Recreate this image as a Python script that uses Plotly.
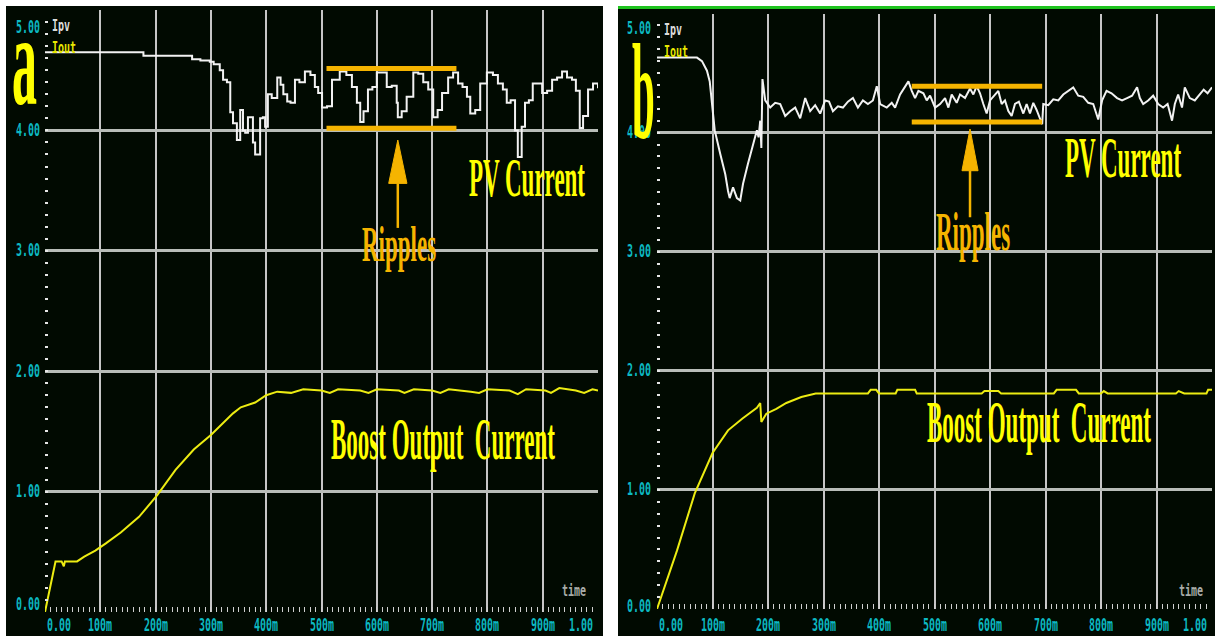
import json
import plotly.graph_objects as go

# ---------------------------------------------------------------- data
time_ticks = [0.0, 0.1, 0.2, 0.3, 0.4, 0.5, 0.6, 0.7, 0.8, 0.9, 1.0]
time_labels = ["0.00", "100m", "200m", "300m", "400m", "500m",
               "600m", "700m", "800m", "900m", "1.00"]
amp_ticks = [0, 1, 2, 3, 4, 5]
amp_labels = ["0.00", "1.00", "2.00", "3.00", "4.00", "5.00"]

# (a) PV current
pv_a_t = [0.000, 0.177, 0.178, 0.265, 0.266, 0.280, 0.281, 0.298, 0.305, 0.316,
          0.322, 0.329, 0.335, 0.340, 0.347, 0.353, 0.358, 0.362, 0.367, 0.376,
          0.380, 0.389, 0.394, 0.398, 0.403, 0.410, 0.420, 0.426, 0.431, 0.438,
          0.444, 0.452, 0.460, 0.470, 0.480, 0.488, 0.494, 0.501, 0.510, 0.519,
          0.533, 0.545, 0.555, 0.564, 0.570, 0.576, 0.584, 0.592, 0.600, 0.609,
          0.618, 0.627, 0.636, 0.638, 0.645, 0.654, 0.666, 0.675, 0.684, 0.693,
          0.702, 0.710, 0.718, 0.729, 0.738, 0.747, 0.755, 0.763, 0.769, 0.778,
          0.787, 0.799, 0.810, 0.819, 0.828, 0.835, 0.842, 0.850, 0.855, 0.862,
          0.868, 0.875, 0.882, 0.890, 0.899, 0.908, 0.917, 0.926, 0.935, 0.944,
          0.953, 0.960, 0.967, 0.973, 0.982, 0.991, 1.000]
pv_a_i = [4.65, 4.65, 4.62, 4.62, 4.59, 4.59, 4.58, 4.57, 4.55, 4.50,
          4.42, 4.40, 4.15, 4.06, 3.92, 4.17, 4.00, 3.98, 4.11, 3.90,
          3.80, 4.10, 4.11, 4.03, 4.30, 4.27, 4.44, 4.38, 4.30, 4.24,
          4.23, 4.42, 4.40, 4.49, 4.46, 4.36, 4.31, 4.19, 4.20, 4.42,
          4.49, 4.46, 4.36, 4.23, 4.07, 4.16, 4.34, 4.36, 4.48, 4.48,
          4.36, 4.37, 4.23, 4.11, 4.16, 4.28, 4.48, 4.47, 4.40, 4.34,
          4.11, 4.17, 4.31, 4.44, 4.48, 4.39, 4.36, 4.28, 4.14, 4.17,
          4.39, 4.48, 4.46, 4.39, 4.34, 4.23, 4.25, 4.00, 3.78, 4.03,
          4.23, 4.25, 4.39, 4.39, 4.31, 4.33, 4.42, 4.44, 4.49, 4.44,
          4.42, 4.33, 4.02, 4.12, 4.34, 4.39, 4.35]

# (a) boost output current
out_a_t = [0.000, 0.019, 0.030, 0.034, 0.036, 0.058, 0.071, 0.091, 0.110, 0.137,
           0.170, 0.203, 0.236, 0.269, 0.300, 0.327, 0.340, 0.354, 0.380, 0.400,
           0.420, 0.445, 0.467, 0.500, 0.515, 0.530, 0.570, 0.585, 0.600, 0.640,
           0.650, 0.667, 0.700, 0.715, 0.730, 0.770, 0.785, 0.800, 0.840, 0.855,
           0.870, 0.905, 0.915, 0.930, 0.960, 0.975, 0.990, 1.000]
out_a_i = [0.00, 0.42, 0.42, 0.38, 0.42, 0.42, 0.46, 0.51, 0.57, 0.66,
           0.79, 0.97, 1.18, 1.35, 1.47, 1.59, 1.65, 1.70, 1.74, 1.80,
           1.83, 1.82, 1.85, 1.84, 1.82, 1.85, 1.84, 1.82, 1.85, 1.84,
           1.82, 1.85, 1.84, 1.82, 1.85, 1.83, 1.82, 1.85, 1.84, 1.81,
           1.85, 1.84, 1.82, 1.86, 1.84, 1.82, 1.85, 1.84]

# (b) PV current
pv_b_t = [0.000, 0.072, 0.081, 0.090, 0.095, 0.100, 0.104, 0.114, 0.123, 0.128,
          0.131, 0.137, 0.144, 0.150, 0.155, 0.164, 0.173, 0.180, 0.183, 0.186,
          0.188, 0.190, 0.195, 0.204, 0.213, 0.222, 0.231, 0.240, 0.249, 0.258,
          0.267, 0.276, 0.285, 0.294, 0.303, 0.310, 0.317, 0.326, 0.335, 0.344,
          0.353, 0.362, 0.371, 0.380, 0.389, 0.396, 0.402, 0.414, 0.423, 0.429,
          0.438, 0.447, 0.453, 0.459, 0.465, 0.471, 0.480, 0.486, 0.492, 0.501,
          0.510, 0.519, 0.525, 0.531, 0.540, 0.546, 0.555, 0.564, 0.570, 0.576,
          0.582, 0.588, 0.594, 0.600, 0.609, 0.615, 0.621, 0.627, 0.633, 0.639,
          0.645, 0.652, 0.660, 0.666, 0.672, 0.678, 0.684, 0.694, 0.696, 0.705,
          0.714, 0.723, 0.732, 0.741, 0.750, 0.759, 0.768, 0.777, 0.786, 0.795,
          0.802, 0.810, 0.819, 0.829, 0.838, 0.847, 0.856, 0.865, 0.870, 0.876,
          0.885, 0.894, 0.903, 0.912, 0.920, 0.928, 0.933, 0.939, 0.946, 0.951,
          0.960, 0.969, 0.978, 0.985, 0.992, 1.000]
pv_b_i = [4.63, 4.63, 4.60, 4.52, 4.43, 4.18, 4.02, 3.82, 3.65, 3.51,
          3.45, 3.54, 3.45, 3.43, 3.57, 3.74, 3.91, 4.02, 3.96, 4.10,
          3.87, 4.45, 4.27, 4.21, 4.25, 4.24, 4.14, 4.18, 4.21, 4.12,
          4.29, 4.18, 4.23, 4.16, 4.27, 4.26, 4.18, 4.22, 4.21, 4.26,
          4.29, 4.21, 4.27, 4.24, 4.27, 4.39, 4.24, 4.21, 4.25, 4.21,
          4.32, 4.38, 4.43, 4.35, 4.29, 4.35, 4.33, 4.27, 4.31, 4.21,
          4.24, 4.29, 4.21, 4.32, 4.25, 4.32, 4.29, 4.37, 4.32, 4.39,
          4.33, 4.24, 4.16, 4.27, 4.32, 4.35, 4.24, 4.27, 4.18, 4.14,
          4.24, 4.26, 4.16, 4.24, 4.16, 4.25, 4.19, 4.07, 4.24, 4.23,
          4.28, 4.27, 4.32, 4.35, 4.38, 4.31, 4.30, 4.25, 4.24, 4.11,
          4.27, 4.35, 4.33, 4.29, 4.27, 4.29, 4.31, 4.38, 4.29, 4.24,
          4.27, 4.31, 4.24, 4.21, 4.24, 4.10, 4.24, 4.32, 4.21, 4.38,
          4.29, 4.27, 4.32, 4.36, 4.33, 4.38]

# (b) boost output current
out_b_t = [0.000, 0.036, 0.068, 0.100, 0.128, 0.154, 0.180, 0.186, 0.188, 0.197,
           0.215, 0.233, 0.260, 0.286, 0.380, 0.385, 0.395, 0.400, 0.430, 0.433,
           0.465, 0.468, 0.585, 0.590, 0.615, 0.620, 0.715, 0.720, 0.755, 0.760,
           0.800, 0.805, 0.812, 0.935, 0.940, 0.950, 0.990, 0.993, 1.000]
out_b_i = [0.00, 0.49, 0.97, 1.31, 1.50, 1.60, 1.69, 1.73, 1.57, 1.64,
           1.68, 1.73, 1.78, 1.81, 1.81, 1.84, 1.84, 1.81, 1.81, 1.84,
           1.84, 1.81, 1.81, 1.83, 1.83, 1.81, 1.81, 1.84, 1.84, 1.81,
           1.81, 1.83, 1.81, 1.81, 1.83, 1.81, 1.81, 1.84, 1.84]

# ripple band: start, end, upper level, lower level
ripple_a = [0.509, 0.744, 4.515, 4.017]
ripple_b = [0.459, 0.694, 4.39, 4.09]

trace_names = ["Ipv", "Iout"]

# ---------------------------------------------------------------- styling
W, H = 1215, 636
BG = "#010a01"
PV_COLOR = "#f2f2f2"
OUT_COLOR = "#ecec12"
TICK_COLOR = "#0cb9c2"
MARK_COLOR = "#f5b400"
TEXT_YELLOW = "#ffff00"
SERIF = "Liberation Serif, Times New Roman, serif"
MONO = "DejaVu Sans Mono, monospace"


def px_x(p):
    return p / W


def px_y(p):
    return (H - p) / H


# plot boxes in pixels: left, right, top (5.00), bottom (0.00)
box_a = (45, 598, 10, 612)
box_b = (657, 1212, 13.5, 609)

fig = go.Figure()

# the first scope samples-and-holds its PV trace, the second draws it linearly
panels = [
    ("x", "y", pv_a_t, pv_a_i, "hv", out_a_t, out_a_i),
    ("x2", "y2", pv_b_t, pv_b_i, "linear", out_b_t, out_b_i),
]

for xr, yr, pt, pi, shape, ot, oi in panels:
    fig.add_trace(go.Scatter(x=pt, y=pi, xaxis=xr, yaxis=yr, mode="lines",
                             name=trace_names[0],
                             line=dict(color=PV_COLOR, width=2, shape=shape)))
    fig.add_trace(go.Scatter(x=ot, y=oi, xaxis=xr, yaxis=yr, mode="lines",
                             name=trace_names[1],
                             line=dict(color=OUT_COLOR, width=2)))


def x_axis(box, anchor):
    return dict(
        domain=[px_x(box[0]), px_x(box[1])], range=[0, 1], anchor=anchor,
        tickmode="array", tickvals=time_ticks[1:], showticklabels=False,
        showgrid=True, gridcolor="#c6c6c6", gridwidth=2, zeroline=False,
        showline=False, ticks="inside", ticklen=5, tickcolor="#d0d0d0",
        tickwidth=1,
        minor=dict(tickmode="linear", tick0=0, dtick=0.01, ticks="inside",
                   ticklen=5, tickcolor="#d0d0d0", tickwidth=1, showgrid=False),
        fixedrange=True,
    )


def y_axis(box, anchor):
    return dict(
        domain=[px_y(box[3]), px_y(box[2])], range=[0, 5], anchor=anchor,
        tickmode="array", tickvals=amp_ticks, showticklabels=False,
        showgrid=True, gridcolor="#b8bdb8", gridwidth=3, zeroline=False,
        showline=False, ticks="inside", ticklen=3, tickcolor="#e6e6e6",
        tickwidth=2,
        minor=dict(tickmode="linear", tick0=0, dtick=0.1, ticks="inside",
                   ticklen=3, tickcolor="#e6e6e6", tickwidth=2, showgrid=False),
        fixedrange=True,
    )


annotations = []
stretch = []   # per-annotation [sx, sy] glyph stretch


def label(sx=1.0, sy=1.0, **kw):
    kw.setdefault("showarrow", False)
    annotations.append(kw)
    stretch.append([sx, sy])


def mono(size, color):
    return dict(family=MONO, size=size, color=color, weight="bold")


def serif(size, color):
    return dict(family=SERIF, size=size, color=color, weight="bold")


# per panel: x/y refs, y-label shifts for 0 and 5, x-label shift, label offsets
panel_text = [
    dict(xr="x", yr="y", y0s=8, y5s=-17, yls=-3, xls=-13,
         ipv=-15, iout=-37, time_dx=-10, time_dy=22),
    dict(xr="x2", yr="y2", y0s=3, y5s=-15, yls=-4, xls=-16,
         ipv=-16, iout=-38, time_dx=-7, time_dy=19),
]

for pt in panel_text:
    xr, yr = pt["xr"], pt["yr"]
    for v, txt in zip(amp_ticks, amp_labels):
        ys = pt["y0s"] if v == amp_ticks[0] else (pt["y5s"] if v == amp_ticks[-1] else 0)
        label(1.0, 1.7, text=txt, xref=f"{xr} domain", x=0, xanchor="right",
              xshift=pt["yls"], yref=yr, y=v, yanchor="middle", yshift=ys,
              font=mono(10, TICK_COLOR))
    for v, txt in zip(time_ticks, time_labels):
        if v == time_ticks[0]:
            xa, xs = "left", 0
        elif v == time_ticks[-1]:
            xa, xs = "right", -3
        else:
            xa, xs = "center", 0
        label(1.0, 1.7, text=txt, xref=xr, x=v, xanchor=xa, xshift=xs,
              yref=f"{yr} domain", y=0, yanchor="middle", yshift=pt["xls"],
              font=mono(10, TICK_COLOR))
    label(1.0, 1.6, text=trace_names[0], xref=f"{xr} domain", x=0,
          xanchor="left", xshift=5, yref=f"{yr} domain", y=1,
          yanchor="middle", yshift=pt["ipv"], font=mono(10, "#dcdcdc"))
    label(1.0, 1.6, text=trace_names[1], xref=f"{xr} domain", x=0,
          xanchor="left", xshift=5, yref=f"{yr} domain", y=1,
          yanchor="middle", yshift=pt["iout"], font=mono(10, "#e8e800"))
    label(1.0, 1.6, text="time", xref=f"{xr} domain", x=1, xanchor="right",
          xshift=pt["time_dx"], yref=f"{yr} domain", y=0, yanchor="middle",
          yshift=pt["time_dy"], font=mono(10, "#a8aca8"))

# in-plot captions
label(1.0, 2.4, text="PV Current", xref="x", yref="y", x=0.8725, y=3.60,
      font=serif(23, TEXT_YELLOW))
label(1.0, 2.16, text="Ripples", xref="x", yref="y", x=0.64, y=3.05,
      font=serif(23, MARK_COLOR))
label(1.0, 2.6, text="Boost Output\u00a0 Current", xref="x", yref="y",
      x=0.72, y=1.43, font=serif(23, TEXT_YELLOW))
label(1.0, 2.5, text="PV Current", xref="x2", yref="y2", x=0.839, y=3.78,
      font=serif(23, TEXT_YELLOW))
label(1.0, 2.4, text="Ripples", xref="x2", yref="y2", x=0.570, y=3.16,
      font=serif(23, MARK_COLOR))
label(1.0, 2.6, text="Boost Output\u00a0 Current", xref="x2", yref="y2",
      x=0.688, y=1.57, font=serif(23, TEXT_YELLOW))

# panel letters
label(1.0, 2.6, text="a", xref="paper", yref="paper", x=px_x(24.5),
      y=px_y(60), xanchor="center", yanchor="middle", font=serif(50, TEXT_YELLOW))
label(1.0, 3.3, text="b", xref="paper", yref="paper", x=px_x(643.5),
      y=px_y(91), xanchor="center", yanchor="middle", font=serif(41, TEXT_YELLOW))

shapes = [
    # dark scope panels
    dict(type="rect", xref="paper", yref="paper", x0=px_x(6), x1=px_x(603),
         y0=0, y1=px_y(6), fillcolor=BG, line=dict(width=0), layer="below"),
    dict(type="rect", xref="paper", yref="paper", x0=px_x(618), x1=1,
         y0=0, y1=px_y(8), fillcolor=BG, line=dict(width=0), layer="below"),
    # green frame edge on the second screen
    dict(type="line", xref="paper", yref="paper", x0=px_x(618), x1=1,
         y0=px_y(7.5), y1=px_y(7.5), line=dict(color="#1ec31e", width=3)),
]

# ripple bands and arrows
arrows = [
    ("x", "y", ripple_a, 0.638, 3.92, 3.56, 3.19, 0.0165),
    ("x2", "y2", ripple_b, 0.564, 4.03, 3.68, 3.29, 0.0145),
]
for xr, yr, band, ax, tip, base, tail, hw in arrows:
    for lvl in band[2:]:
        shapes.append(dict(type="line", xref=xr, yref=yr, x0=band[0], x1=band[1],
                           y0=lvl, y1=lvl, line=dict(color=MARK_COLOR, width=5)))
    shapes.append(dict(type="line", xref=xr, yref=yr, x0=ax, x1=ax, y0=tail,
                       y1=base, line=dict(color=MARK_COLOR, width=2.5)))
    shapes.append(dict(type="path", xref=xr, yref=yr,
                       path=f"M {ax - hw},{base} L {ax},{tip} L {ax + hw},{base} Z",
                       fillcolor=MARK_COLOR, line=dict(color=MARK_COLOR, width=1)))

fig.update_layout(
    width=W, height=H, margin=dict(l=0, r=0, t=0, b=0),
    paper_bgcolor="white", plot_bgcolor=BG, showlegend=False,
    xaxis=x_axis(box_a, "y"), yaxis=y_axis(box_a, "x"),
    xaxis2=x_axis(box_b, "y2"), yaxis2=y_axis(box_b, "x2"),
    annotations=annotations, shapes=shapes,
)

# stretch caption glyphs vertically around their own centre
stretch_js = """
var gd = document.getElementById('{plot_id}');
var s = %s;
gd.querySelectorAll('g.annotation').forEach(function (g) {
  var i = +g.getAttribute('data-index');
  var f = s[i];
  if (!f) return;
  var t = g.querySelector('text');
  if (!t) return;
  var b = t.getBBox();
  var cx = b.x + b.width / 2, cy = b.y + b.height / 2;
  var prev = t.getAttribute('transform') || '';
  t.setAttribute('transform', prev + ' translate(' + cx + ',' + cy + ') scale(' +
    f[0] + ',' + f[1] + ') translate(' + (-cx) + ',' + (-cy) + ')');
});
""" % json.dumps(stretch)

fig.write_html("out.html", post_script=stretch_js,
               config={"displayModeBar": False, "responsive": False})
